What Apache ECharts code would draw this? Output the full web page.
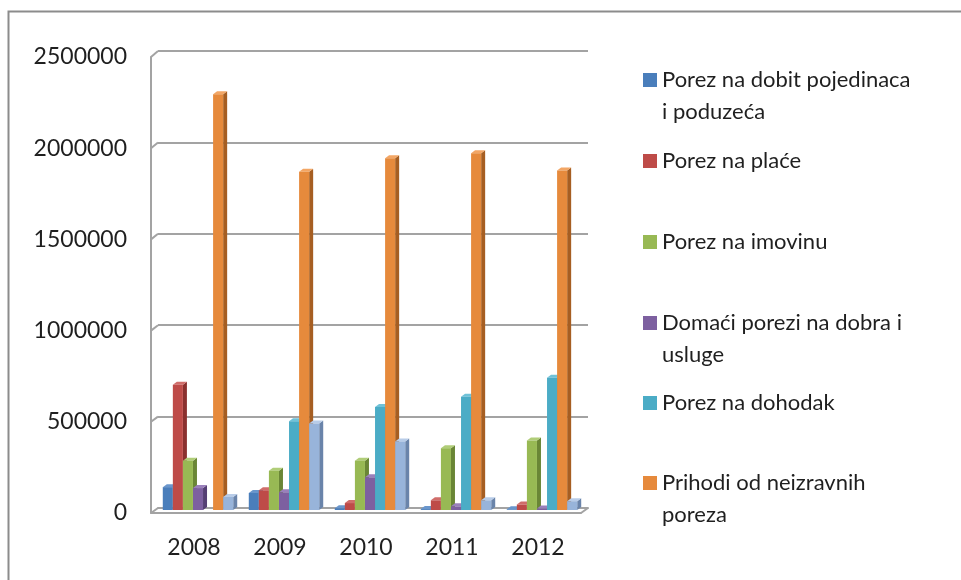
<!DOCTYPE html>
<html>
<head>
<meta charset="utf-8">
<script src="https://cdn.jsdelivr.net/npm/echarts@6/dist/echarts.min.js"></script>
<style>
html,body{margin:0;padding:0;background:#fff;}
#chart{width:961px;height:580px;}
</style>
</head>
<body>
<div id="chart"></div>
<script>
// ---- data ----
var categories = ['2008', '2009', '2010', '2011', '2012'];
var seriesNames = [
  'Porez na dobit pojedinaca i poduzeća',
  'Porez na plaće',
  'Porez na imovinu',
  'Domaći porezi na dobra i usluge',
  'Porez na dohodak',
  'Prihodi od neizravnih poreza',
  'Ostalo'
];
var dobit      = [125000, 93000, 10000, 5000, 4000];
var place      = [685000, 108000, 38000, 53000, 30000];
var imovina    = [270000, 215000, 270000, 338000, 380000];
var domaci     = [120000, 97000, 179000, 20000, 8000];
var dohodak    = [0, 486000, 563000, 620000, 724000];
var neizravni  = [2275000, 1851000, 1924000, 1952000, 1857000];
var ostalo     = [71000, 473000, 375000, 53000, 48000];
var yTicks     = [0, 500000, 1000000, 1500000, 2000000, 2500000];

// legend labels (as displayed, with line breaks)
var legendLabels = [
  ['Porez na dobit pojedinaca', 'i poduzeća'],
  ['Porez na plaće'],
  ['Porez na imovinu'],
  ['Domaći porezi na dobra i', 'usluge'],
  ['Porez na dohodak'],
  ['Prihodi od neizravnih', 'poreza']
];

// ---- styles ----
var frontCol = ['#4A7EBB', '#BE4B48', '#98B954', '#7D60A0', '#4BACC6', '#E68A3C', '#98B4DA'];
var sideCol  = ['#2F5687', '#8A302E', '#6A8636', '#553F74', '#2F7F96', '#A65E22', '#6A84AA'];
var topCol   = ['#6A96CC', '#D06D6A', '#B0CD78', '#9A80BB', '#70C2D8', '#F3A665', '#B8CCE8'];
var FONT = 'Lato';
var TXT = '#1f1f1f';
var GRIDC = '#a3a3a3';

var allValues = [dobit, place, imovina, domaci, dohodak, neizravni, ostalo];

function makeRender(si) {
  return function (params, api) {
    var c = api.value(0), v = api.value(1);
    if (!(v > 0)) return null;
    var p0 = api.coord([c, 0]);
    var p1 = api.coord([c, v]);
    var band = api.size([1, 0])[0];
    var bw = band * 0.117;
    var x = p0[0] - 3.5 * bw + si * bw - 3;
    var yb = p0[1] + 2, yt = p1[1] + 2;
    var dx = 4, dy = -3;
    return {
      type: 'group',
      children: [
        { type: 'polygon', shape: { points: [[x + bw, yb], [x + bw + dx, yb + dy], [x + bw + dx, yt + dy], [x + bw, yt]] }, style: { fill: sideCol[si] } },
        { type: 'polygon', shape: { points: [[x, yt], [x + dx, yt + dy], [x + bw + dx, yt + dy], [x + bw, yt]] }, style: { fill: topCol[si] } },
        { type: 'rect', shape: { x: x, y: yt, width: bw, height: yb - yt }, style: { fill: frontCol[si] } }
      ]
    };
  };
}

var series = allValues.map(function (arr, si) {
  return {
    type: 'custom',
    name: seriesNames[si],
    xAxisIndex: 1,
    yAxisIndex: 1,
    itemStyle: { color: frontCol[si] },
    renderItem: makeRender(si),
    encode: { x: 0, y: 1 },
    data: arr.map(function (v, i) { return [i, v]; }),
    z: 3
  };
});

// legends: one per item to place them like the reference
var legendCenters = [80, 161, 242, 323, 403, 483];
var legends = legendLabels.map(function (lines, i) {
  var twoLine = lines.length > 1;
  // for two-line entries an empty first line keeps the icon on the first text line
  var txt = twoLine ? ('\u00a0\n' + lines[0] + '\n' + lines[1]) : lines[0];
  return {
    data: [seriesNames[i]],
    orient: 'vertical',
    left: 638,
    top: legendCenters[i] - 5 - (twoLine ? 48 : 16),
    icon: 'rect',
    itemWidth: 14,
    itemHeight: 14,
    selectedMode: false,
    formatter: function () { return txt; },
    textStyle: { fontFamily: FONT, fontSize: 22, color: TXT, lineHeight: 32 }
  };
});

var chart = echarts.init(document.getElementById('chart'), null, { renderer: 'canvas', width: 961, height: 580 });

var option = {
  animation: false,
  backgroundColor: '#ffffff',
  legend: legends,
  grid: [
    { left: 151, top: 57, width: 430, height: 456 },
    { left: 158, top: 51, width: 430, height: 457 }
  ],
  xAxis: [
    {
      gridIndex: 0, type: 'category', data: categories,
      axisLine: { show: true, lineStyle: { color: GRIDC, width: 2 } },
      axisTick: { show: false },
      axisLabel: { fontFamily: FONT, fontSize: 23, color: TXT, margin: 23 },
      splitLine: { show: false }
    },
    {
      gridIndex: 1, type: 'category', data: categories,
      axisLine: { show: true, lineStyle: { color: GRIDC, width: 2 } },
      axisTick: { show: false },
      axisLabel: { show: false },
      splitLine: { show: false }
    }
  ],
  yAxis: [
    {
      gridIndex: 0, type: 'value', min: 0, max: 2500000, interval: 500000,
      axisLine: { show: true, lineStyle: { color: GRIDC, width: 2 } },
      axisTick: { show: false },
      axisLabel: { fontFamily: FONT, fontSize: 23, color: TXT, margin: 24, formatter: function (v) { return String(v); } },
      splitLine: { show: false }
    },
    {
      gridIndex: 1, type: 'value', min: 0, max: 2500000, interval: 500000,
      axisLine: { show: false },
      axisTick: { show: false },
      axisLabel: { show: false },
      splitLine: { show: true, lineStyle: { color: GRIDC, width: 2 } }
    }
  ],
  series: series
};
chart.setOption(option);

// connectors between the front wall edge and the back-wall gridlines / floor
var gfx = [{
  type: 'rect', left: 6, top: 9, z: 100, silent: true,
  shape: { x: 0, y: 0, width: 1000, height: 620 },
  style: { fill: 'none', stroke: '#8c8c8c', lineWidth: 2 }
}];
yTicks.forEach(function (t) {
  var f = chart.convertToPixel({ xAxisIndex: 0, yAxisIndex: 0 }, [0, t]);
  var b = chart.convertToPixel({ xAxisIndex: 1, yAxisIndex: 1 }, [0, t]);
  gfx.push({
    type: 'line', silent: true, z: 1,
    shape: { x1: 151, y1: f[1], x2: 158, y2: b[1] },
    style: { stroke: GRIDC, lineWidth: 2 }
  });
});
(function () {
  var f = chart.convertToPixel({ xAxisIndex: 0, yAxisIndex: 0 }, [4, 0]);
  var b = chart.convertToPixel({ xAxisIndex: 1, yAxisIndex: 1 }, [4, 0]);
  gfx.push({
    type: 'line', silent: true, z: 1,
    shape: { x1: 581, y1: f[1], x2: 588, y2: b[1] },
    style: { stroke: GRIDC, lineWidth: 2 }
  });
})();
chart.setOption({ graphic: gfx });
</script>
</body>
</html>
